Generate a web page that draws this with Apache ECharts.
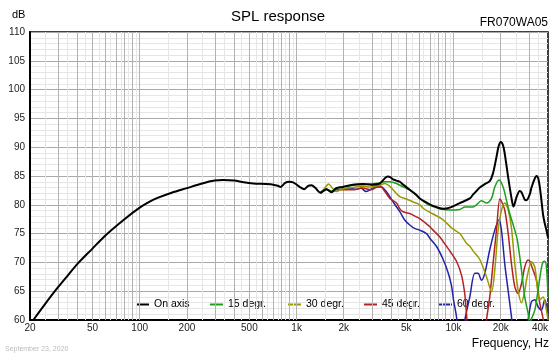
<!DOCTYPE html>
<html>
<head>
<meta charset="utf-8">
<script src="https://cdn.jsdelivr.net/npm/echarts@6/dist/echarts.min.js"></script>
<style>
html,body{margin:0;padding:0;background:#fff;}
#chart{width:560px;height:356px;}
</style>
</head>
<body>
<div id="chart"></div>
<script>
// ---- data (frequency in Hz, level in dB) ----
const seriesNames = ['On axis', '15 degr.', '30 degr.', '45 degr.', '60 degr.'];
const freqTicks = [20, 50, 100, 200, 500, 1000, 2000, 5000, 10000, 20000, 40000];
const dbMin = 60, dbMax = 110, dbStep = 5;

const onAxis = [[21,60],[25,62.8],[30,65.6],[35,67.8],[40,69.7],[50,72.4],[60,74.6],[80,77.5],[100,79.5],[115,80.5],[130,81.2],[160,82.1],[200,82.9],[250,83.7],[300,84.2],[340,84.3],[400,84.2],[460,83.9],[530,83.7],[640,83.6],[710,83.5],[760,83.3],[790,83.1],[845,83.8],[900,84.0],[950,83.9],[1000,83.5],[1045,83.1],[1120,82.7],[1185,83.3],[1245,83.4],[1320,82.9],[1420,82.1],[1550,82.7],[1670,82.2],[1790,82.9],[1970,83.1],[2280,83.5],[2640,83.6],[2980,83.5],[3390,83.7],[3650,84.6],[3810,84.9],[4000,84.7],[4120,84.4],[4330,84.2],[4550,84.0],[4770,83.5],[5260,82.6],[5810,81.7],[6100,81.1],[6730,80.4],[7410,79.8],[7980,79.5],[8590,79.3],[9460,79.5],[10960,80.3],[12700,81.1],[13330,81.8],[14000,82.4],[14700,83.0],[15820,83.6],[17020,84.1],[17860,85.5],[18780,88.3],[19400,90.2],[20000,90.9],[20700,90.3],[21200,88.9],[22260,84.9],[23400,81.2],[24100,79.7],[25180,81.3],[26420,82.4],[27100,82.2],[28440,80.9],[29200,80.8],[30600,81.8],[31400,83.0],[32960,84.6],[33760,85.0],[34580,84.7],[35420,83.2],[36320,80.8],[37200,78.3],[38120,76.8],[39080,75.6],[40000,74.3]];

const deg15 = [[1420,82.2],[1550,82.7],[1670,82.4],[1790,82.9],[1970,83.1],[2280,83.4],[2640,83.5],[2980,83.6],[3390,83.8],[3650,84.0],[3930,84.0],[4330,83.7],[4770,83.1],[5260,82.6],[5810,81.6],[6100,81.1],[6730,80.2],[7410,79.7],[8180,79.3],[9460,79.1],[10960,79.2],[11800,79.6],[13330,79.6],[14000,80.0],[15060,80.7],[16220,80.3],[17460,81.1],[18320,83.1],[19510,84.3],[20700,83.1],[21740,80.8],[22820,78.5],[24560,75.6],[25500,73.9],[27100,68.7],[28440,64.0],[29860,61.2],[30600,59.5],[31400,60.2],[32960,61.7],[34580,65.2],[36300,69.0],[37200,70.1],[38120,70.2],[39080,69.2],[40000,64]];

const deg30 = [[1420,82.1],[1500,82.8],[1600,83.6],[1690,82.9],[1790,82.3],[1970,82.8],[2280,83.0],[2640,83.2],[2980,83.1],[3390,83.4],[3650,83.7],[3930,83.2],[4120,82.6],[4550,81.4],[5020,81.0],[5520,80.5],[6100,80.0],[6400,79.4],[7410,78.4],[8590,77.4],[9700,76.0],[10960,75.0],[12100,73.3],[12700,72.8],[13330,72.0],[14700,70.5],[16220,67.5],[17460,64.9],[18320,68.7],[19230,75.6],[20200,79.0],[21200,80.3],[22260,79.2],[23400,76.0],[24560,69.8],[25780,65.2],[27100,63.0],[28440,65.0],[29160,66.9],[31400,70.1],[32960,69.2],[35420,63.5],[37200,64.0],[39080,61.7],[40000,60]];

const deg45 = [[1420,82.0],[1550,82.7],[1670,82.2],[1790,82.7],[1970,82.6],[2280,82.6],[2640,82.9],[2980,82.6],[3390,83.3],[3650,82.3],[3930,81.1],[4330,80.3],[4550,79.3],[4770,78.8],[5260,78.5],[5810,77.9],[6100,77.6],[7060,76.2],[7410,75.6],[8180,74.4],[9020,72.8],[9460,72.0],[10440,70.2],[11240,67.8],[11800,64.5],[12100,61],[12500,57],[13500,54],[15000,54],[15800,57],[16220,60],[17020,64],[17860,69.8],[18780,75.6],[19720,81.0],[20200,80.6],[21200,79.1],[22260,75.2],[23400,69.8],[24560,65.8],[25780,64.6],[27100,66.3],[28440,69.2],[29860,70.4],[30620,70.2],[31400,69.4],[33760,66.9],[35420,63.0],[37200,60.3],[38500,58],[40000,56]];

const deg60 = [[1420,82.0],[1550,82.7],[1670,82.2],[1790,82.6],[1970,82.7],[2170,82.9],[2390,82.7],[2570,82.9],[2770,82.3],[2980,82.7],[3210,83.1],[3460,83.1],[3730,82.3],[4120,80.5],[4550,78.8],[4870,77.4],[5260,76.5],[5650,75.9],[6100,75.6],[6730,75.0],[7060,74.2],[7780,72.8],[8590,70.5],[9240,68.2],[9700,66.0],[10000,63.5],[10440,60.6],[10800,57],[11300,56],[11800,60],[12700,64],[13660,68.1],[14330,68.1],[15060,66.9],[15820,68.1],[17020,72.2],[18320,75.6],[19510,77.4],[20200,75.6],[21200,69.8],[22260,65.2],[23400,60.6],[24200,57],[27000,55],[29000,58],[29860,60],[31400,63.2],[32960,63.5],[34580,62.3],[36320,61.7],[38120,63.5],[40000,61.2]];

const seriesData = [onAxis, deg15, deg30, deg45, deg60];
const seriesColors = ['#000000', '#1e9e1e', '#999900', '#b22222', '#2323a8'];
const seriesWidths = [2, 1.5, 1.5, 1.5, 1.5];
const legendLeft = [136, 210, 288, 364, 439];

// ---- helpers ----
const FONT = 'Liberation Sans, Arial, sans-serif';
const lg = Math.log10;
const fmtHz = v => {
  const f = Math.round(Math.pow(10, v));
  return f >= 1000 ? Math.round(f / 1000) + 'k' : String(f);
};

// log grid lines (axis decoration): n*10^k and (n+0.5)*10^k
const gridMajor = [], gridMinor = [];
[10, 100, 1000, 10000].forEach(d => {
  for (let n = 1; n <= 9; n++) {
    const f = n * d;
    if (f > 20 && f < 40000) gridMajor.push(f);
    const h = (n + 0.5) * d;
    if (h > 20 && h < 40000) gridMinor.push(h);
  }
});

const chart = echarts.init(document.getElementById('chart'), null, {renderer: 'canvas'});

const series = seriesNames.map((name, i) => ({
  name: name,
  type: 'line',
  data: seriesData[i].map(p => [lg(p[0]), p[1]]),
  showSymbol: false,
  symbol: 'none',
  smooth: 0.3,
  clip: true,
  z: 5 + (seriesNames.length - i),
  lineStyle: {color: seriesColors[i], width: seriesWidths[i]},
  itemStyle: {color: seriesColors[i]}
}));

series.push({
  name: '_grid',
  type: 'line',
  data: [],
  z: 1,
  silent: true,
  markLine: {
    silent: true,
    symbol: ['none', 'none'],
    label: {show: false},
    animation: false,
    data: gridMinor.map(f => ({xAxis: lg(f), lineStyle: {color: '#e6e6e6', width: 1, type: 'solid'}}))
      .concat(gridMajor.map(f => ({xAxis: lg(f), lineStyle: {color: '#b2b2b2', width: 1, type: 'solid'}})))
  }
});

const option = {
  animation: false,
  backgroundColor: '#ffffff',
  textStyle: {fontFamily: FONT},
  grid: {left: 30, top: 32, right: 12, bottom: 36, show: true, borderColor: '#000', borderWidth: 1.5, backgroundColor: '#fff'},
  xAxis: {
    type: 'value',
    min: lg(20),
    max: lg(40000),
    axisLine: {show: true, onZero: false, lineStyle: {color: '#000', width: 2}},
    axisTick: {show: false},
    splitLine: {show: false},
    axisLabel: {
      customValues: freqTicks.map(lg),
      formatter: fmtHz,
      fontSize: 10,
      color: '#222',
      margin: 3,
      fontFamily: FONT,
      alignMaxLabel: 'right'
    }
  },
  yAxis: {
    type: 'value',
    min: dbMin,
    max: dbMax,
    interval: dbStep,
    axisLine: {show: true, onZero: false, lineStyle: {color: '#000', width: 2}},
    axisTick: {show: false},
    splitLine: {show: true, lineStyle: {color: '#aaaaaa', width: 1}},
    minorTick: {show: false, splitNumber: 5},
    minorSplitLine: {show: true, lineStyle: {color: '#e6e6e6', width: 1}},
    axisLabel: {fontSize: 10, color: '#222', margin: 5, fontFamily: FONT}
  },
  legend: seriesNames.map((n, i) => ({
    data: [n],
    left: legendLeft[i],
    top: 299,
    padding: 0,
    itemGap: 0,
    icon: 'rect',
    itemWidth: 13,
    itemHeight: 2,
    itemStyle: {borderWidth: 0, color: seriesColors[i]},
    selectedMode: false,
    textStyle: {fontSize: 10.5, color: '#000', fontFamily: FONT}
  })),
  graphic: [
    {type: 'text', x: 278, y: 17, style: {text: 'SPL response', font: '15px ' + FONT, fill: '#000', textAlign: 'center', textVerticalAlign: 'middle'}},
    {type: 'text', x: 12, y: 15, style: {text: 'dB', font: '11px ' + FONT, fill: '#000', textAlign: 'left', textVerticalAlign: 'middle'}},
    {type: 'text', x: 548, y: 23, style: {text: 'FR070WA05', font: '12px ' + FONT, fill: '#000', textAlign: 'right', textVerticalAlign: 'middle'}},
    {type: 'text', x: 549, y: 344, style: {text: 'Frequency, Hz', font: '12px ' + FONT, fill: '#000', textAlign: 'right', textVerticalAlign: 'middle'}},
    {type: 'text', x: 5, y: 349, style: {text: 'September 23, 2020', font: '7px ' + FONT, fill: '#bbbbbb', textAlign: 'left', textVerticalAlign: 'middle'}}
  ],
  series: series
};

chart.setOption(option);
</script>
</body>
</html>
